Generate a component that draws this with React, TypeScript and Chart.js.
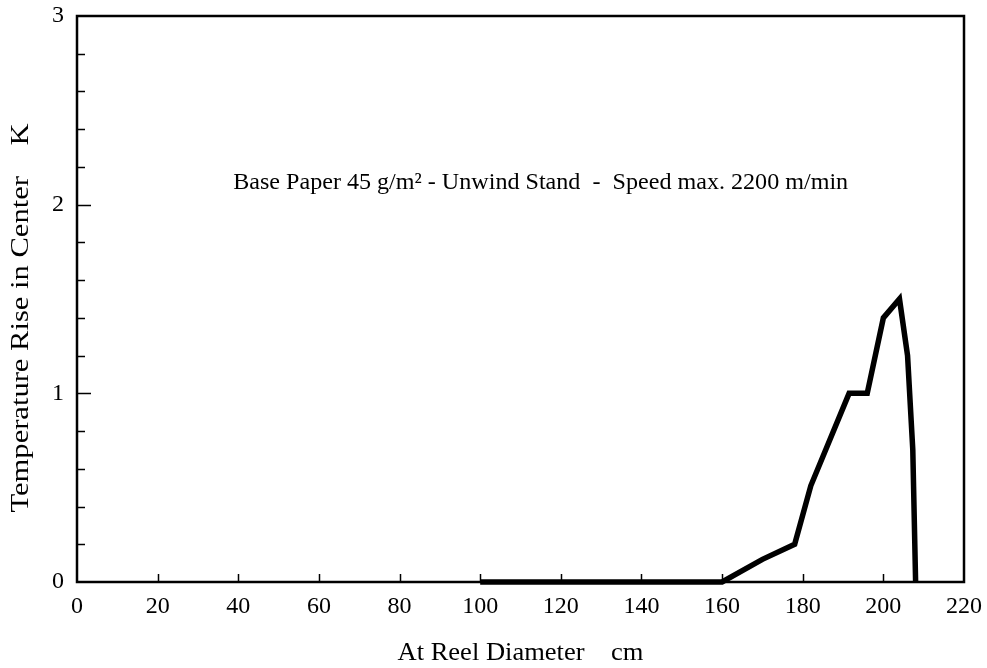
import React, { useEffect, useRef } from "react";
import { Chart, registerables } from "chart.js";

Chart.register(...registerables);

// Reel diameter (cm) and temperature rise (K)
const diameters = [100, 160, 170, 178, 182, 191.5, 196, 200, 204, 206, 207.3, 208];
const temps = [0, 0, 0.12, 0.2, 0.51, 1.0, 1.0, 1.4, 1.5, 1.2, 0.7, 0];

const xTickValues = [0, 20, 40, 60, 80, 100, 120, 140, 160, 180, 200, 220];
const yTickValues = [0, 1, 2, 3];
const yMinorTickValues = [0.2, 0.4, 0.6, 0.8, 1.2, 1.4, 1.6, 1.8, 2.2, 2.4, 2.6, 2.8];

const xAxisTitle = "At Reel Diameter    cm";
const yAxisTitle = "Temperature Rise in Center    K";
const noteText = "Base Paper 45 g/m\u00B2 - Unwind Stand  -  Speed max. 2200 m/min";

const SERIF = '"Liberation Serif", "Times New Roman", serif';

function drawFitted(
  ctx: CanvasRenderingContext2D,
  text: string,
  cx: number,
  cy: number,
  width: number,
  size: number,
  rotate: boolean,
  baseline: CanvasTextBaseline
) {
  ctx.save();
  ctx.font = `${size}px ${SERIF}`;
  const w = ctx.measureText(text).width;
  ctx.translate(cx, cy);
  if (rotate) ctx.rotate(-Math.PI / 2);
  ctx.scale(width / w, 1);
  ctx.textAlign = "center";
  ctx.textBaseline = baseline;
  ctx.fillStyle = "#000";
  ctx.fillText(text, 0, 0);
  ctx.restore();
}

const decorPlugin = {
  id: "decor",
  afterDraw(chart: any) {
    const { ctx, chartArea: a } = chart;
    const x = chart.scales.x;
    const y = chart.scales.y;
    ctx.save();
    ctx.strokeStyle = "#000";
    ctx.lineWidth = 2.5;
    ctx.strokeRect(a.left, a.top, a.right - a.left, a.bottom - a.top);

    ctx.lineWidth = 1.5;
    ctx.beginPath();
    yMinorTickValues.forEach((v) => {
      const py = Math.round(y.getPixelForValue(v)) + 0.5;
      ctx.moveTo(a.left, py);
      ctx.lineTo(a.left + 8, py);
    });
    yTickValues.forEach((v) => {
      if (v <= y.min || v >= y.max) return;
      const py = Math.round(y.getPixelForValue(v)) + 0.5;
      ctx.moveTo(a.left, py);
      ctx.lineTo(a.left + 14, py);
    });
    xTickValues.forEach((v) => {
      if (v <= x.min || v >= x.max) return;
      const px = Math.round(x.getPixelForValue(v)) + 0.5;
      ctx.moveTo(px, a.bottom);
      ctx.lineTo(px, a.bottom - 8);
    });
    ctx.stroke();

    // annotation inside plot
    drawFitted(ctx, noteText, x.getPixelForValue(115), y.getPixelForValue(2.083), 615, 23, false, "alphabetic");
    // axis titles
    drawFitted(ctx, xAxisTitle, (a.left + a.right) / 2, 660, 246, 25, false, "alphabetic");
    drawFitted(ctx, yAxisTitle, 21, 318, 389, 25, true, "middle");
    ctx.restore();
  },
};

export default function App() {
  const canvasRef = useRef<HTMLCanvasElement | null>(null);

  useEffect(() => {
    if (!canvasRef.current) return;
    const chart = new Chart(canvasRef.current, {
      type: "scatter",
      data: {
        datasets: [
          {
            data: diameters.map((d, i) => ({ x: d, y: temps[i] })),
            showLine: true,
            borderColor: "#000",
            backgroundColor: "#000",
            borderWidth: 5.5,
            pointRadius: 0,
            pointHoverRadius: 0,
            tension: 0,
            borderJoinStyle: "miter",
            clip: 6,
          } as any,
        ],
      },
      plugins: [decorPlugin],
      options: {
        animation: false,
        responsive: true,
        maintainAspectRatio: false,
        layout: { padding: { left: 0, top: 16, right: 23, bottom: 0 } },
        plugins: {
          legend: { display: false },
          tooltip: { enabled: false },
          title: { display: false },
        },
        events: [],
        scales: {
          x: {
            type: "linear",
            min: 0,
            max: 220,
            grid: { display: false, drawTicks: false },
            border: { display: false },
            afterFit: (s: any) => {
              s.height = 86;
              s.paddingLeft = 0;
              s.paddingRight = 0;
            },
            afterBuildTicks: (s: any) => {
              s.ticks = xTickValues.map((v) => ({ value: v }));
            },
            ticks: {
              padding: 10,
              color: "#000",
              maxRotation: 0,
              autoSkip: false,
              font: { family: SERIF, size: 24 },
            },
          },
          y: {
            type: "linear",
            min: 0,
            max: 3,
            grid: { display: false, drawTicks: false },
            border: { display: false },
            afterFit: (s: any) => {
              s.width = 77;
              s.paddingTop = 0;
              s.paddingBottom = 0;
            },
            afterBuildTicks: (s: any) => {
              s.ticks = yTickValues.map((v) => ({ value: v }));
            },
            ticks: {
              padding: 13,
              color: "#000",
              autoSkip: false,
              font: { family: SERIF, size: 24 },
            },
          },
        },
      } as any,
    });
    return () => chart.destroy();
  }, []);

  return (
    <div style={{ position: "fixed", left: 0, top: 0, width: 987, height: 668, background: "#fff" }}>
      <canvas ref={canvasRef} />
    </div>
  );
}
